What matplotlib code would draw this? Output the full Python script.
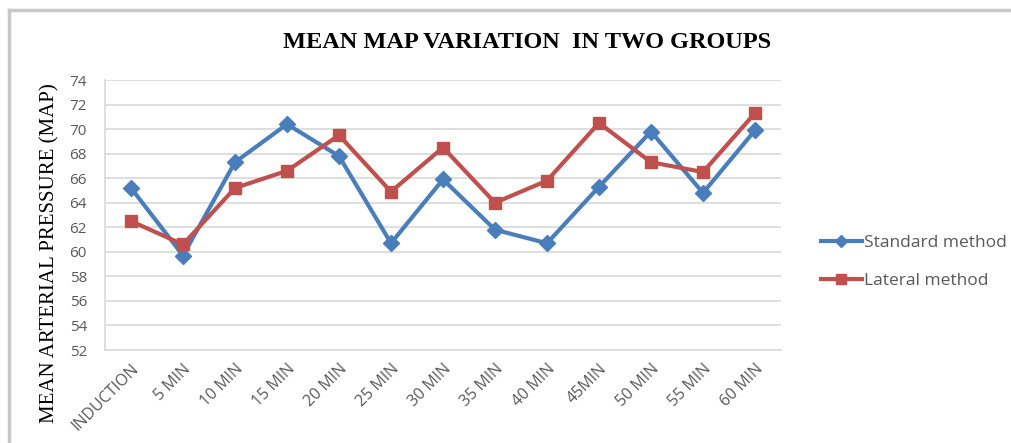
import numpy as np
import matplotlib
matplotlib.use("Agg")
import matplotlib.pyplot as plt
from matplotlib.lines import Line2D

# data
time_points = ["INDUCTION", "5 MIN", "10 MIN", "15 MIN", "20 MIN", "25 MIN", "30 MIN",
               "35 MIN", "40 MIN", "45MIN", "50 MIN", "55 MIN", "60 MIN"]
standard_map = [65.2, 59.7, 67.3, 70.4, 67.8, 60.7, 65.9, 61.8, 60.7, 65.3, 69.8, 64.8, 69.9]
lateral_map = [62.5, 60.6, 65.2, 66.6, 69.5, 64.9, 68.5, 64.0, 65.8, 70.5, 67.3, 66.5, 71.3]
y_ticks = list(range(52, 75, 2))

blue = "#4a7ebb"
red = "#c0504d"
grey_text = "#595959"
sans = "Open Sans"
serif = "Liberation Serif"

fig = plt.figure(figsize=(10.11, 4.43), dpi=100)
ax = fig.add_axes([105 / 1011, 1 - 350 / 443, 676 / 1011, 270 / 443])

x = np.arange(len(time_points))
ax.plot(x, standard_map, color=blue, lw=3, marker="D", ms=8, label="Standard method", zorder=3)
ax.plot(x, lateral_map, color=red, lw=3, marker="s", ms=9, label="Lateral method", zorder=4)

ax.set_xlim(-0.5, len(time_points) - 0.5)
ax.set_ylim(52, 74)
ax.set_yticks(y_ticks)
ax.set_yticklabels([str(v) for v in y_ticks], fontsize=11, color=grey_text, family=sans)
ax.set_xticks(x)
ax.set_xticklabels(time_points, rotation=45, ha="right", va="top", rotation_mode="anchor",
                   fontsize=11.5, color=grey_text, family=sans)
ax.tick_params(axis="both", length=0)
ax.tick_params(axis="x", pad=8)
ax.tick_params(axis="y", pad=13)

ax.grid(axis="y", color="#d9d9d9", lw=1.2)
ax.set_axisbelow(True)
for side in ["top", "right"]:
    ax.spines[side].set_visible(False)
for side in ["left", "bottom"]:
    ax.spines[side].set_color("#d9d9d9")
    ax.spines[side].set_linewidth(1.2)

ax.set_ylabel("MEAN ARTERIAL PRESSURE (MAP)", family=serif, fontsize=15, color="black")
ax.yaxis.set_label_coords(-0.068, 0.36)

fig.text(527 / 1011, 1 - 42 / 443, "MEAN MAP VARIATION  IN TWO GROUPS", ha="center", va="center",
         family=serif, fontweight="bold", fontsize=17.5)

handles = [Line2D([], [], color=blue, lw=3, marker="D", ms=6),
           Line2D([], [], color=red, lw=3, marker="s", ms=7)]
fig.legend(handles, ["Standard method", "Lateral method"], loc="center left",
           bbox_to_anchor=(805 / 1011, 1 - 262 / 443), frameon=False, handlelength=2.4,
           handletextpad=0.1, labelspacing=1.3, prop={"family": sans, "size": 12.5},
           labelcolor=grey_text)

# outer chart frame (left and top edges visible)
fig.add_artist(Line2D([8.5 / 1011, 8.5 / 1011], [0, 1 - 10 / 443], color="#c8c8c8", lw=2.5,
                      transform=fig.transFigure))
fig.add_artist(Line2D([8.5 / 1011, 1], [1 - 10 / 443, 1 - 10 / 443], color="#c8c8c8", lw=2.5,
                      transform=fig.transFigure))

fig.savefig("out.png", dpi=100)
